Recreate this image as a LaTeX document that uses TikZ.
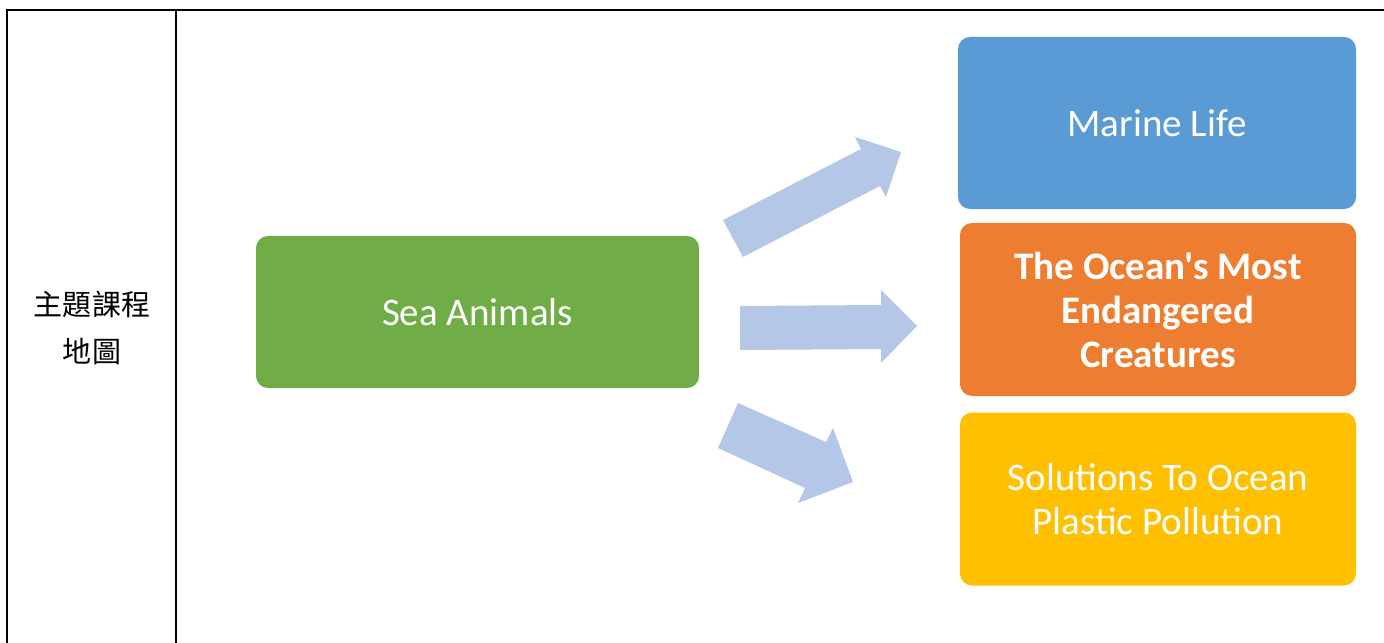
\documentclass[tikz,border=0pt]{standalone}
\usepackage{fontspec}
\setmainfont{Carlito}[Ligatures=TeXOff]
\newfontfamily\cjk{Noto Sans CJK TC}
\definecolor{seagreen}{HTML}{70AD47}
\definecolor{marineblue}{HTML}{5B9BD5}
\definecolor{dangerorange}{HTML}{ED7D31}
\definecolor{plasticyellow}{HTML}{FFC000}
\definecolor{arrowblue}{HTML}{B4C7E7}

\begin{document}
\begin{tikzpicture}[x=1bp,y=-1bp,
  topic/.style={rounded corners=12bp, text=white, align=center,
    font=\fontsize{39bp}{44bp}\selectfont},
  blockarrow/.style={fill=arrowblue, draw=none}]
\useasboundingbox (0,0) rectangle (1384,643);
% table frame
\draw[line width=2.3bp] (7,643) -- (7,10) -- (1390,10);
\draw[line width=2.3bp] (176,10) -- (176,643);
\node[font=\cjk\fontsize{29bp}{47bp}\selectfont, align=center] (title) at (92,328) {主題課程\\地圖};
% boxes
\node[topic, fill=seagreen, minimum width=443bp, minimum height=152bp] (sea) at (477.5,312) {Sea Animals};
\node[topic, fill=marineblue, minimum width=398bp, minimum height=172bp] (marine) at (1157,123) {Marine Life};
\node[topic, fill=dangerorange, minimum width=396bp, minimum height=173bp, font=\fontsize{39bp}{44bp}\selectfont\bfseries] (endangered) at (1158,309.5) {The Ocean's Most\\Endangered\\Creatures};
\node[topic, fill=plasticyellow, minimum width=396bp, minimum height=173bp] (plastic) at (1158,499) {Solutions To Ocean\\Plastic Pollution};
% arrows
\fill[blockarrow] (723,220) -- (861,149) -- (855,137) -- (901,152) -- (886,197) -- (880,186) -- (743,257) -- cycle;
\fill[blockarrow] (740,306) -- (881,305) -- (881,290) -- (917,326) -- (881,363) -- (881,349) -- (740,350) -- cycle;
\fill[blockarrow] (738,403) -- (826,442) -- (833,428) -- (853,482) -- (798,503) -- (805,488) -- (718,448) -- cycle;
\end{tikzpicture}
\end{document}
